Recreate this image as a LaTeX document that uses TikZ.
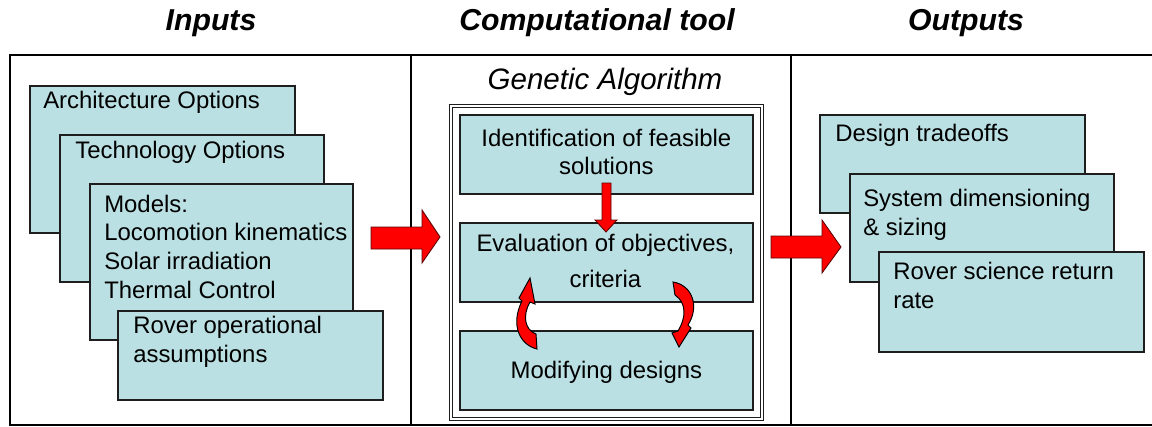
\documentclass[tikz,border=0pt]{standalone}
\usepackage{fontspec}
\setmainfont{Liberation Sans}
\usetikzlibrary{positioning,fit,calc}
\definecolor{boxcyan}{RGB}{187,224,227}
\definecolor{boxline}{RGB}{30,30,30}
\definecolor{arrowred}{RGB}{255,0,0}
\definecolor{arrowdark}{RGB}{90,0,0}
\tikzset{
    % frame of the three columns
    panel/.style={draw=black, line width=1.4pt},
    % light blue option boxes
    optbox/.style={
        rectangle, draw=boxline, fill=boxcyan, line width=1.3pt,
        anchor=north west, inner sep=0pt
    },
    pxsize/.style 2 args={minimum width=#1*0.025cm, minimum height=#2*0.025cm},
    % text of the boxes, placed at the baseline of its last line
    boxtext/.style={
        font=\fontsize{17}{20}\selectfont, inner sep=0pt,
        align=left, anchor=base west
    },
    gatext/.style={
        font=\fontsize{17}{20}\selectfont, inner sep=0pt,
        align=center, anchor=base
    },
    header/.style={font=\fontsize{21.5}{24}\selectfont\bfseries\itshape, anchor=base, inner sep=0pt},
    gatitle/.style={font=\fontsize{21}{24}\selectfont\itshape, anchor=base, inner sep=0pt},
    gaframe/.style={
        draw=boxline, line width=0.8pt, double, double distance=1.2pt,
        inner sep=0.2cm
    },
    blockarrow/.style={fill=arrowred, draw=arrowdark, line width=0.6pt, line join=miter},
    looparrow/.style={fill=arrowred, draw=black, line width=0.7pt, line join=miter}
}

\begin{document}
\begin{tikzpicture}[x=0.025cm, y=-0.025cm]
\useasboundingbox (0,0) rectangle (1152,427);

% Column headers
\node[header] (inputs) at (211,31) {Inputs};
\node[header] (tool) at (597,31) {Computational tool};
\node[header] (outputs) at (966,31) {Outputs};

% Frame and dividers
\draw[panel] (1160,55) -- (10,55) -- (10,425) -- (1160,425);
\draw[panel] (411,55) -- (411,425);
\draw[panel] (791,55) -- (791,425);

% Inputs
\node[optbox, pxsize={265}{147}] (arch) at (29,85) {};
\node[boxtext] (archtxt) at ($(arch.north west)+(14,23)$) {Architecture Options};
\node[optbox, pxsize={264}{147}] (tech) at (59,134) {};
\node[boxtext] (techtxt) at ($(tech.north west)+(16,24)$) {Technology Options};
\node[optbox, pxsize={263}{156}] (models) at (89,183) {};
\node[boxtext] (modelstxt) at ($(models.north west)+(15,115)$)
    {Models:\\[0.3pt]Locomotion kinematics\\[0.3pt]Solar irradiation\\[0.3pt]Thermal Control};
\node[optbox, pxsize={265}{89}] (roverop) at (117,310) {};
\node[boxtext] (roveroptxt) at ($(roverop.north west)+(16,52)$) {Rover operational\\assumptions};

% Computational tool
\node[optbox, pxsize={293}{79}] (ident) at (459,114) {};
\node[gatext] (identtxt) at ($(ident.north)+(0,61)$) {Identification of feasible\\solutions};
\node[optbox, pxsize={293}{79}] (eval) at (459,222) {};
\node[gatext] (evaltxt) at ($(eval.north)+(-1,65)$) {Evaluation of objectives,\\[5pt]criteria};
\node[optbox, pxsize={293}{79}] (modify) at (459,330) {};
\node[gatext] (modifytxt) at ($(modify.north)+(0,48)$) {Modifying designs};
\node[gaframe, fit=(ident)(eval)(modify)] (ga) {};
\node[gatitle] (gatitle) at (605,90) {Genetic Algorithm};

% Outputs
\node[optbox, pxsize={265}{98}] (trade) at (819,114) {};
\node[boxtext] (tradetxt) at ($(trade.north west)+(16,28)$) {Design tradeoffs};
\node[optbox, pxsize={264}{108}] (sizing) at (849,173) {};
\node[boxtext] (sizingtxt) at ($(sizing.north west)+(14,62)$) {System dimensioning\\\& sizing};
\node[optbox, pxsize={265}{100}] (science) at (878,251) {};
\node[boxtext] (sciencetxt) at ($(science.north west)+(15,57)$) {Rover science return\\rate};

% Block arrows
\filldraw[blockarrow] (371,227) -- (422,227) -- (422,210) -- (440,237)
    -- (422,263) -- (422,249) -- (371,249) -- cycle;
\filldraw[blockarrow] (771,236) -- (822,236) -- (822,220) -- (841,247)
    -- (822,273) -- (822,258) -- (771,258) -- cycle;
\filldraw[blockarrow] (602,183) -- (611,183) -- (611,220) -- (617,220)
    -- (606,232) -- (595,220) -- (602,220) -- cycle;

% Loop between evaluation and modification
\filldraw[looparrow] (537,349) .. controls (520,345) and (510,325) .. (522,301)
    -- (519,298) -- (530,278) -- (535,304) -- (530,302)
    .. controls (522,316) and (525,330) .. (536,334) -- cycle;
\filldraw[looparrow] (673,282) .. controls (692,285) and (700,306) .. (688,325)
    -- (691,328) -- (679,347) -- (672,333) -- (678,331)
    .. controls (686,318) and (687,303) .. (675,295) -- cycle;

\end{tikzpicture}
\end{document}
